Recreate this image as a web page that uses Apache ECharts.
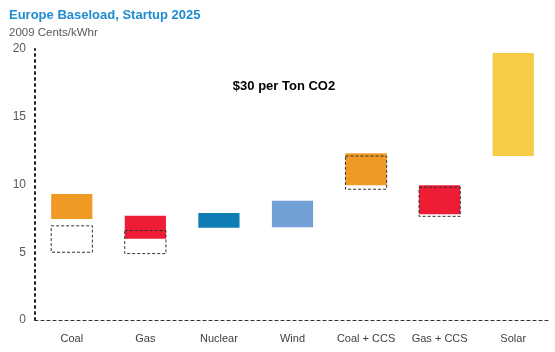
<!DOCTYPE html>
<html>
<head>
<meta charset="utf-8">
<script src="https://cdn.jsdelivr.net/npm/echarts@6/dist/echarts.min.js"></script>
<style>
  html, body { margin: 0; padding: 0; background: #fff; }
  #main { width: 555px; height: 352px; }
</style>
</head>
<body>
<div id="main"></div>
<script>
var categories = ['Coal', 'Gas', 'Nuclear', 'Wind', 'Coal + CCS', 'Gas + CCS', 'Solar'];
// cost range with $30/ton CO2 (low, high)
var rangeLow = [7.45, 6.0, 6.8, 6.85, 9.95, 7.8, 12.1];
var rangeHigh = [9.3, 7.7, 7.9, 8.8, 12.3, 9.95, 19.7];
var barColors = ['#EE9A25', '#EE1C34', '#0E7DB4', '#729FD5', '#EE9A25', '#EE1C34', '#F6CB45'];
// cost range without carbon price (dashed boxes), null = none
var baseLow = [5.0, 4.9, null, null, 9.65, 7.65, null];
var baseHigh = [6.95, 6.6, null, null, 12.1, 9.8, null];
var yTicks = [0, 5, 10, 15, 20];

var chartDom = document.getElementById('main');
var myChart = echarts.init(chartDom);
var option;

var fillData = categories.map(function (c, i) {
  return { value: [i, rangeLow[i], rangeHigh[i]], itemStyle: { color: barColors[i] } };
});
var boxData = [];
categories.forEach(function (c, i) {
  if (baseLow[i] != null) boxData.push([i, baseLow[i], baseHigh[i]]);
});

function renderBox(params, api) {
  var lo = api.coord([api.value(0), api.value(1)]);
  var hi = api.coord([api.value(0), api.value(2)]);
  var w = api.size([1, 0])[0] * 0.56;
  return {
    type: 'rect',
    shape: { x: lo[0] - w / 2, y: hi[1], width: w, height: lo[1] - hi[1] },
    style: api.style()
  };
}

option = {
  animation: false,
  title: [
    {
      text: 'Europe Baseload, Startup 2025',
      left: 4,
      top: 4,
      textStyle: { color: '#1E8BD3', fontSize: 13, fontWeight: 'bold', fontFamily: 'Liberation Sans' }
    },
    {
      text: '2009 Cents/kWhr',
      left: 4,
      top: 22,
      textStyle: { color: '#595959', fontSize: 11.5, fontWeight: 'normal', fontFamily: 'Liberation Sans' }
    },
    {
      text: '$30 per Ton CO2',
      left: 279,
      top: 75,
      textAlign: 'center',
      textStyle: { color: '#000', fontSize: 13, fontWeight: 'bold', fontFamily: 'Liberation Sans' }
    }
  ],
  grid: { left: 35, right: 5, top: 49, bottom: 32 },
  xAxis: {
    type: 'category',
    data: categories,
    axisLine: { lineStyle: { color: '#333', type: [3, 3], width: 1.2 } },
    axisTick: { show: false },
    axisLabel: { interval: 0, color: '#404040', fontSize: 11, margin: 13, fontFamily: 'Liberation Sans' }
  },
  yAxis: {
    type: 'value',
    min: yTicks[0],
    max: yTicks[yTicks.length - 1],
    interval: 5,
    axisLine: { show: true, lineStyle: { color: '#222', type: [2, 4], width: 2 } },
    axisTick: { show: false },
    splitLine: { show: false },
    axisLabel: { color: '#595959', fontSize: 12, margin: 9, fontFamily: 'Liberation Sans' }
  },
  series: [
    {
      type: 'custom',
      renderItem: renderBox,
      encode: { x: 0, y: [1, 2] },
      itemStyle: { borderWidth: 0 },
      data: fillData
    },
    {
      type: 'custom',
      renderItem: renderBox,
      encode: { x: 0, y: [1, 2] },
      itemStyle: { color: 'rgba(0,0,0,0)', borderColor: '#333', borderWidth: 1, borderType: [3, 2] },
      data: boxData
    }
  ]
};

option && myChart.setOption(option);
</script>
</body>
</html>
